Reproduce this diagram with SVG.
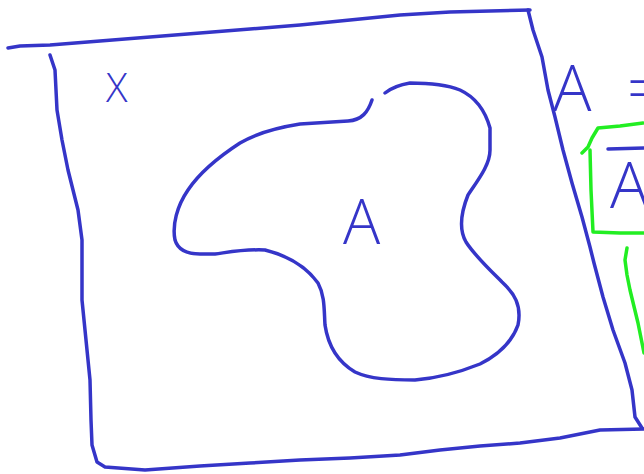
<svg xmlns="http://www.w3.org/2000/svg" width="644" height="474" viewBox="0 0 644 474">
<style>
.b{fill:none;stroke:#3535c8;stroke-width:3.5;stroke-linecap:round;stroke-linejoin:round}
.g{fill:none;stroke:#22ee22;stroke-width:3.5;stroke-linecap:round;stroke-linejoin:round}
.tb{fill:#3535c8;font-family:"Open Sans","DejaVu Sans",sans-serif;font-weight:300}
</style>
<rect width="644" height="474" fill="#fff"/>
<g id="universe-X">
<polyline class="b" points="8,48 20,46 50,45 100,41 150,37 200,33 250,29 300,25 350,20 400,15 450,12 490,11 530,10"/>
<polyline class="b" points="50,55 55,70 57,110 62,140 68,170 78,210 82,240 82,300 86,340 90,380 91,420 92,445 97,462 105,467 145,470 200,466 250,463 300,460 350,458 400,455 440,450 480,446 520,443 560,438 600,430 644,429"/>
<polyline class="b" points="528,10 533,30 542,57 548,90 555,117 563,150 572,183 582,217 590,247 594,263 603,297 613,330 625,363 632,390 635,417 642,428"/>
<text class="tb" x="106" y="102" font-size="40">X</text>
</g>
<g id="set-A">
<path class="b" d="M372,100 C368,112 362,120 348,121 L300,124 C275,128 255,134 240,143 C220,156 200,172 188,190 C177,206 172,225 175,240 C178,250 186,254 200,254 L215,254 C230,252 245,249 265,250 C285,255 305,265 318,283 C325,296 324,310 325,325 C328,345 338,362 355,372 C370,379 390,380 415,380 C440,378 460,372 480,364 C500,354 512,342 518,325 C522,305 514,293 502,282 C490,270 475,256 466,242 C458,228 462,210 468,195 C478,180 490,165 490,150 L490,128 C485,110 475,97 460,90 C445,84 425,83 410,83 C398,85 390,89 385,93"/>
<text class="tb" x="343" y="244" font-size="62">A</text>
</g>
<g id="equation">
<text class="tb" x="553" y="111" font-size="64"><tspan>A</tspan><tspan x="627">=</tspan></text>
</g>
<g id="complement-A">
<polyline class="g" points="582,153 588,147 592,138 598,128 620,126 643,123"/>
<polyline class="g" points="590,150 591,190 593,232 620,233 644,233"/>
<line class="b" x1="608" y1="149" x2="644" y2="148"/>
<text class="tb" x="610" y="208" font-size="64">A</text>
<polyline class="g" points="627,248 625,260 627,275 630,290 638,323 644,353"/>
</g>
</svg>
